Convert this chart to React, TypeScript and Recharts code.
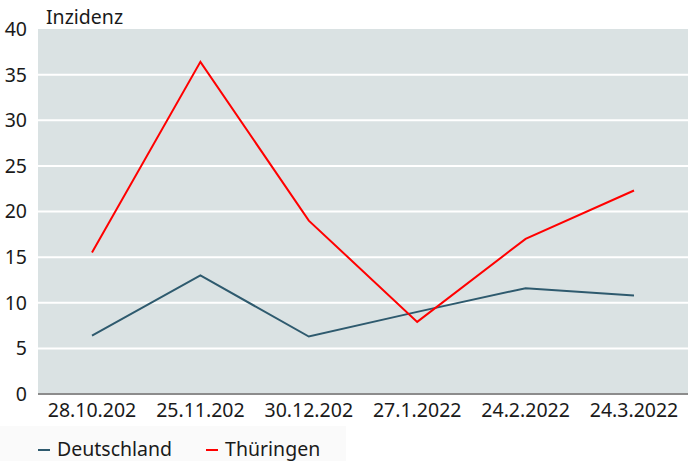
import React from "react";
import { LineChart, Line, XAxis, YAxis, CartesianGrid, Legend, Label } from "recharts";

const dates = ["28.10.2021", "25.11.2021", "30.12.2021", "27.1.2022", "24.2.2022", "24.3.2022"];
const deutschland = [6.4, 13.0, 6.3, 9.0, 11.6, 10.8];
const thueringen = [15.5, 36.4, 19.0, 7.9, 17.0, 22.3];
const yTicks = [0, 5, 10, 15, 20, 25, 30, 35, 40];

const data = dates.map((d, i) => ({
	date: d,
	Deutschland: deutschland[i],
	Thüringen: thueringen[i]
}));

const FONT = "'Noto Sans', sans-serif";

const Dash = ({ color }: { color: string }) => (
	<span
		style={{
			display: "inline-block",
			width: 12,
			height: 2,
			background: color,
			marginRight: 7,
			marginTop: 2
		}}
	/>
);

const LegendContent = () => (
	<div
		style={{
			display: "flex",
			alignItems: "center",
			width: 346,
			height: 35,
			background: "#fafafa",
			fontFamily: FONT,
			fontSize: 19.5,
			lineHeight: "22px",
			color: "#1a1a1a",
			paddingLeft: 38,
			paddingTop: 10,
			boxSizing: "border-box"
		}}
	>
		<Dash color="#2e5a6e" />
		<span style={{ marginRight: 34 }}>Deutschland</span>
		<Dash color="#ff0000" />
		<span>Thüringen</span>
	</div>
);

export default function App() {
	return (
		<div style={{ position: "absolute", left: 0, top: 0, width: 688, height: 461, background: "#fff" }}>
			<LineChart width={688} height={461} data={data} margin={{ top: 29, right: 0, bottom: 0, left: 0 }}>
				<CartesianGrid
					vertical={false}
					horizontalValues={[5, 10, 15, 20, 25, 30, 35]}
					stroke="#ffffff"
					strokeWidth={2}
					fill="#dae2e3"
				/>
				<XAxis
					dataKey="date"
					height={32}
					padding={{ left: 54, right: 54 }}
					tickLine={false}
					axisLine={{ stroke: "#8c8c8c", strokeWidth: 2 }}
					interval={0}
					tickFormatter={(v: string) => v.slice(0, 9)}
					tick={{ fontFamily: FONT, fontSize: 19.5, fill: "#1a1a1a" }}
					tickMargin={3}
				/>
				<YAxis
					width={38}
					domain={[0, 40]}
					ticks={yTicks}
					interval={0}
					axisLine={false}
					tickLine={false}
					tick={{ fontFamily: FONT, fontSize: 19.5, fill: "#1a1a1a" }}
					tickMargin={5}
				>
					<Label
						content={() => (
							<text x={46} y={24} fontFamily={FONT} fontSize={19.5} fill="#1a1a1a">
								Inzidenz
							</text>
						)}
					/>
				</YAxis>
				<Legend verticalAlign="bottom" align="left" height={35} content={<LegendContent />} />
				<Line
					type="linear"
					dataKey="Deutschland"
					stroke="#2e5a6e"
					strokeWidth={2}
					dot={false}
					isAnimationActive={false}
				/>
				<Line
					type="linear"
					dataKey="Thüringen"
					stroke="#ff0000"
					strokeWidth={2}
					dot={false}
					isAnimationActive={false}
				/>
			</LineChart>
		</div>
	);
}
